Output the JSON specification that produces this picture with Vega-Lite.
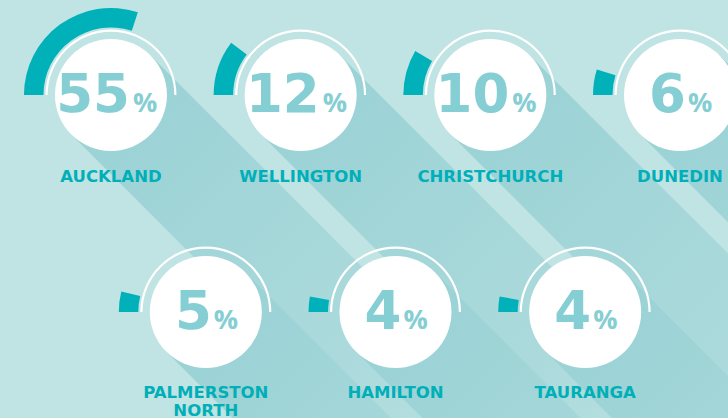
{
  "$schema": "https://vega.github.io/schema/vega-lite/v6.json",
  "width": 728,
  "height": 418,
  "padding": 0,
  "autosize": {"type": "none"},
  "background": "#c0e3e3",
  "config": {"view": {"stroke": null, "fill": "#c0e3e3"}},
  "data": {
    "values": [
      {"city": "AUCKLAND", "pct": 55, "col": 0, "row": 0},
      {"city": "WELLINGTON", "pct": 12, "col": 1, "row": 0},
      {"city": "CHRISTCHURCH", "pct": 10, "col": 2, "row": 0},
      {"city": "DUNEDIN", "pct": 6, "col": 3, "row": 0},
      {"city": "PALMERSTON NORTH", "pct": 5, "col": 0.5, "row": 1},
      {"city": "HAMILTON", "pct": 4, "col": 1.5, "row": 1},
      {"city": "TAURANGA", "pct": 4, "col": 2.5, "row": 1}
    ]
  },
  "encoding": {
    "x": {"field": "col", "type": "quantitative", "axis": null, "scale": {"domain": [-0.585, 3.253], "range": [0, 728], "nice": false, "zero": false}},
    "y": {"field": "row", "type": "quantitative", "axis": null, "scale": {"domain": [-0.4378, 1.4885], "range": [0, 418], "nice": false, "zero": false}}
  },
  "layer": [
    {
      "mark": {
        "type": "rule",
        "strokeWidth": 112,
        "strokeCap": "butt",
        "x2Offset": 420,
        "y2Offset": 420,
        "clip": true,
        "stroke": {
          "gradient": "linear",
          "x1": 0, "y1": 0, "x2": 1, "y2": 1,
          "stops": [
            {"offset": 0, "color": "#9ad2d5"},
            {"offset": 0.6, "color": "#acdadc"},
            {"offset": 1, "color": "#c0e3e3"}
          ]
        }
      },
      "encoding": {
        "x2": {"field": "col"},
        "y2": {"field": "row"}
      }
    },
    {
      "mark": {"type": "arc", "theta": -1.5708, "theta2": 1.5708, "radius": 65.5, "radius2": 63.3, "fill": "#ffffff"}
    },
    {
      "mark": {"type": "circle", "size": 12544, "fill": "#ffffff", "opacity": 1, "strokeWidth": 0}
    },
    {
      "mark": {"type": "arc", "radius": 87, "radius2": 67.5, "fill": "#00b1b9"},
      "encoding": {
        "theta": {"field": "pct", "type": "quantitative", "stack": null, "scale": {"domain": [0, 12, 55], "range": [-1.623, -0.925, 0.314]}},
        "theta2": {"value": -1.5708}
      }
    },
    {
      "transform": [{"filter": "datum.pct >= 10"}],
      "mark": {"type": "text", "align": "right", "baseline": "alphabetic", "dx": 19, "dy": 17, "font": "DejaVu Sans", "fontWeight": "bold", "fontSize": 53, "fill": "#85ced3"},
      "encoding": {"text": {"field": "pct", "type": "quantitative"}}
    },
    {
      "transform": [{"filter": "datum.pct < 10"}],
      "mark": {"type": "text", "align": "right", "baseline": "alphabetic", "dx": 6, "dy": 17, "font": "DejaVu Sans", "fontWeight": "bold", "fontSize": 53, "fill": "#85ced3"},
      "encoding": {"text": {"field": "pct", "type": "quantitative"}}
    },
    {
      "transform": [{"filter": "datum.pct >= 10"}],
      "mark": {"type": "text", "align": "left", "baseline": "alphabetic", "dx": 22, "dy": 17, "font": "Open Sans", "fontWeight": "bold", "fontSize": 27, "fill": "#85ced3"},
      "encoding": {"text": {"value": "%"}}
    },
    {
      "transform": [{"filter": "datum.pct < 10"}],
      "mark": {"type": "text", "align": "left", "baseline": "alphabetic", "dx": 8, "dy": 17, "font": "Open Sans", "fontWeight": "bold", "fontSize": 27, "fill": "#85ced3"},
      "encoding": {"text": {"value": "%"}}
    },
    {
      "mark": {"type": "text", "align": "center", "baseline": "alphabetic", "dy": 86.5, "font": "DejaVu Sans", "fontWeight": "bold", "fontSize": 16.5, "fill": "#00afb8", "lineBreak": " ", "lineHeight": 18},
      "encoding": {"text": {"field": "city", "type": "nominal"}}
    }
  ]
}
